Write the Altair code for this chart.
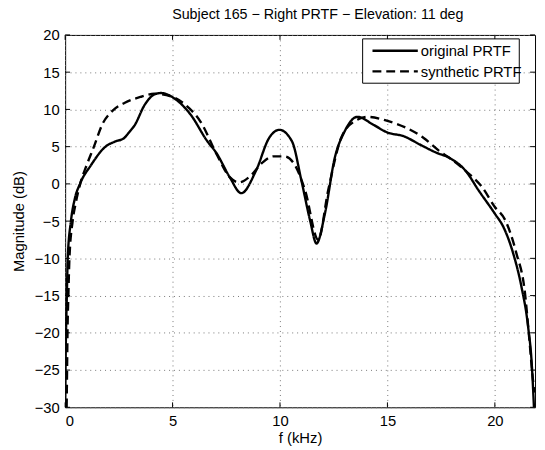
import altair as alt
import pandas as pd

FONT = "Liberation Sans"
FS = 15

series_names = ["original PRTF", "synthetic PRTF"]

orig_f = [0.0, 0.03, 0.08, 0.12, 0.27, 0.45, 0.69, 1.2, 1.88, 2.34, 2.72, 3.0, 3.24, 3.7,
          4.15, 4.46, 5.07, 5.84, 6.6, 7.05, 7.66, 8.2, 8.88, 9.5, 9.97, 10.56, 11.0, 11.4,
          11.7, 12.09, 12.55, 13.0, 13.6, 14.37, 15.0, 15.76, 16.5, 17.27, 17.88, 18.64,
          19.25, 20.0, 20.4, 20.85, 21.23, 21.54, 21.72, 21.82]
orig_db = [-30.0, -22.0, -15.0, -10.0, -5.0, -2.0, 0.0, 2.5, 5.0, 5.7, 6.1, 7.0, 7.9, 10.6,
           12.0, 12.2, 11.5, 9.3, 5.8, 4.1, 0.9, -1.25, 1.75, 6.2, 7.26, 5.7, 0.4, -4.9,
           -8.0, -4.0, 3.5, 7.0, 9.0, 7.9, 6.9, 6.4, 5.3, 4.2, 3.5, 1.75,
           -0.9, -4.0, -5.8, -9.3, -13.7, -19.0, -24.3, -30.0]

synth_f = [0.07, 0.09, 0.11, 0.15, 0.2, 0.35, 0.5, 0.7, 1.0, 1.34, 1.73, 2.2, 2.78, 3.54,
           4.15, 5.07, 5.6, 6.29, 7.05, 7.66, 8.1, 8.6, 9.18, 9.7, 10.2, 10.72, 11.17,
           11.78, 12.24, 12.85, 13.47, 14.08, 15.0, 15.9, 16.67, 17.42, 17.88, 18.64, 19.41,
           20.0, 20.47, 21.0, 21.4, 21.6, 21.8, 21.87]
synth_db = [-30.0, -25.0, -20.0, -15.0, -10.0, -5.0, -2.5, 0.0, 2.5, 5.0, 8.0, 9.8, 10.9, 11.7,
            12.1, 11.6, 10.6, 8.4, 4.0, 0.9, 0.2, 1.0, 2.85, 3.7, 3.7, 2.4, -0.9,
            -7.5, -0.9, 6.2, 8.4, 9.0, 8.45, 7.5, 6.2, 4.4, 3.5, 1.75, -0.45,
            -3.1, -4.8, -9.3, -14.6, -20.7, -26.9, -28.0]

x_ticks = [0, 5, 10, 15, 20]
y_ticks = [-30, -25, -20, -15, -10, -5, 0, 5, 10, 15, 20]

W, H = 477, 378
DASH = [9, 5]
LW = 2.4

df = pd.concat([
    pd.DataFrame({"f": orig_f, "db": orig_db, "series": series_names[0]}),
    pd.DataFrame({"f": synth_f, "db": synth_db, "series": series_names[1]}),
], ignore_index=True)

xt = pd.DataFrame({"v": x_ticks})
yt = pd.DataFrame({"v": y_ticks})

x_scale = alt.Scale(domain=[0, 21.87], nice=False, zero=False)
y_scale = alt.Scale(domain=[-30, 20], nice=False, zero=False)

x_axis = alt.Axis(values=x_ticks, title="f (kHz)", grid=True, labelPadding=6, titlePadding=3)
y_axis = alt.Axis(values=y_ticks, title="Magnitude (dB)", grid=True, labelPadding=6,
                  titlePadding=8)

lines = alt.Chart(df).mark_line(color="black", strokeWidth=LW, clip=True,
                                interpolate="monotone").encode(
    x=alt.X("f:Q", scale=x_scale, axis=x_axis, title="f (kHz)"),
    y=alt.Y("db:Q", scale=y_scale, axis=y_axis, title="Magnitude (dB)"),
    strokeDash=alt.StrokeDash("series:N",
                              scale=alt.Scale(domain=series_names, range=[[1, 0], DASH]),
                              legend=None),
)

def xrule(y1, y2):
    return alt.Chart(xt).mark_rule(color="black", strokeWidth=1).encode(
        x=alt.X("v:Q", scale=x_scale, axis=x_axis, title="f (kHz)"),
        y=alt.value(y1), y2=alt.value(y2))

def yrule(x1, x2):
    return alt.Chart(yt).mark_rule(color="black", strokeWidth=1).encode(
        y=alt.Y("v:Q", scale=y_scale, axis=y_axis, title="Magnitude (dB)"),
        x=alt.value(x1), x2=alt.value(x2))

# legend (drawn in plot pixel space)
LX0, LX1, LY0, LY1 = 302, 461, 4, 49
leg_box = alt.Chart(pd.DataFrame({"k": [0]})).mark_rect(
    fill="white", stroke="black", strokeWidth=1).encode(
    x=alt.value(LX0), x2=alt.value(LX1), y=alt.value(LY0), y2=alt.value(LY1))

leg_layers = [leg_box]
rows_y = [16, 37]
dashes = [[1, 0], DASH]
for name, ry, dsh in zip(series_names, rows_y, dashes):
    row_df = pd.DataFrame({"label": [name]})
    leg_layers.append(alt.Chart(row_df).mark_rule(color="black", strokeWidth=LW,
                                                  strokeDash=dsh).encode(
        x=alt.value(312), x2=alt.value(358), y=alt.value(ry)))
    leg_layers.append(alt.Chart(row_df).mark_text(
        font=FONT, fontSize=FS, color="black", align="left", baseline="middle").encode(
        text="label:N", x=alt.value(361), y=alt.value(ry + 0.5)))

chart = alt.layer(lines, xrule(H, H - 5), xrule(0, 5), yrule(0, 5), yrule(W - 5, W),
                  *leg_layers).properties(
    width=W, height=H,
    autosize=alt.AutoSizeParams(type="none"),
    padding={"left": 58, "top": 24, "right": 2, "bottom": 40},
    title=alt.TitleParams("Subject 165 \u2212 Right PRTF \u2212 Elevation: 11 deg",
                          font=FONT, fontSize=14.5, fontWeight="normal",
                          color="black", offset=6, anchor="middle", dx=18),
    background="white",
).configure_view(stroke="black", strokeWidth=1).configure_axis(
    domain=False, ticks=False,
    gridColor="#777777", gridDash=[1, 4], gridWidth=1, gridOpacity=1,
    labelFont=FONT, labelFontSize=FS, labelColor="black",
    titleFont=FONT, titleFontSize=FS, titleFontWeight="normal", titleColor="black",
)

chart.save("out.html", embed_options={"renderer": "svg", "actions": False})
